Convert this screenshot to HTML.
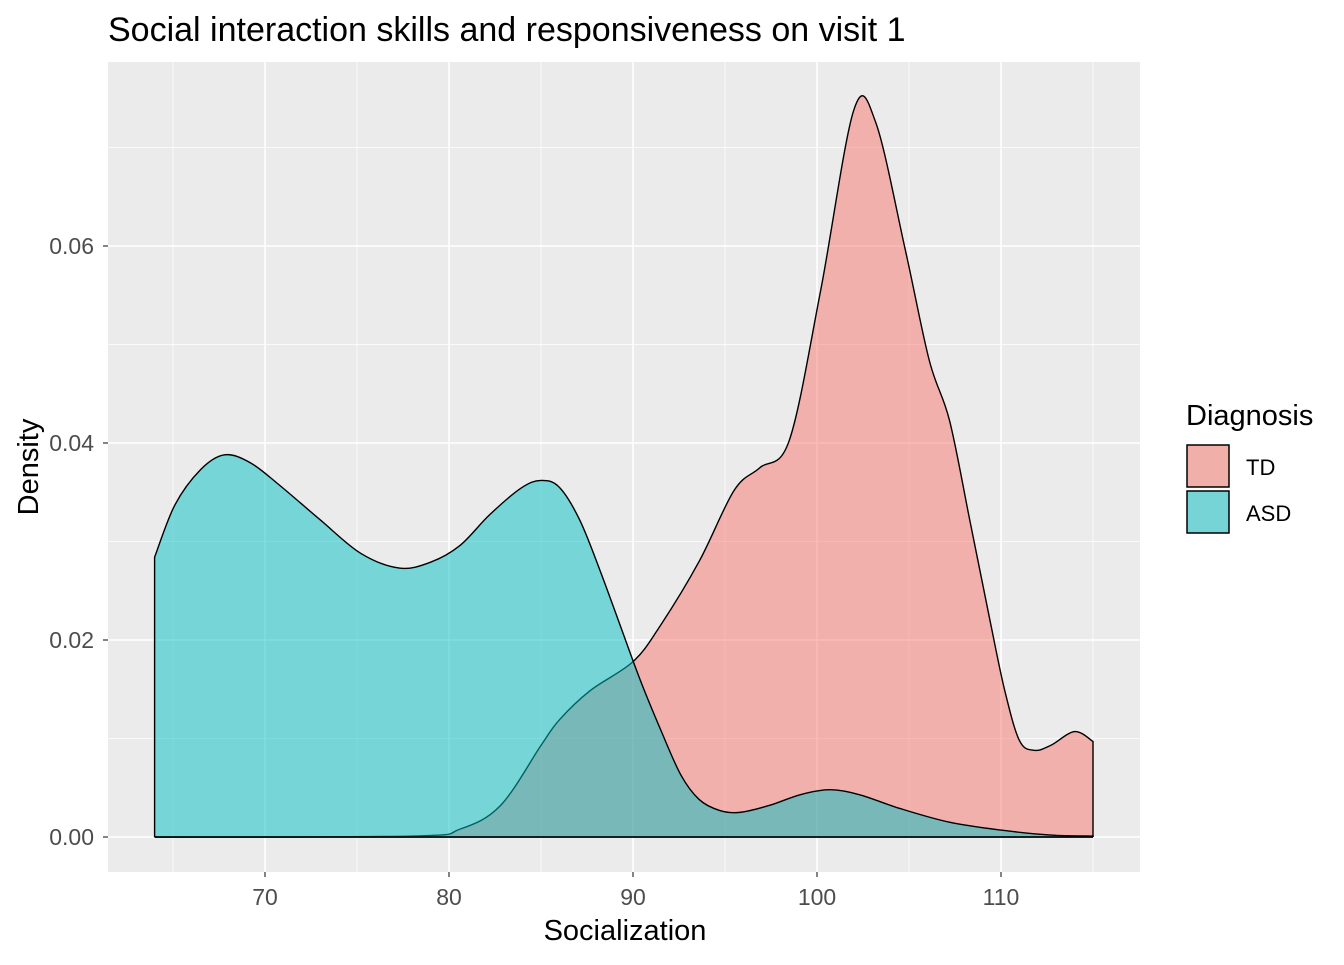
<!DOCTYPE html>
<html><head><meta charset="utf-8"><style>
body{margin:0;background:#fff;}
svg text{font-family:"Liberation Sans",Arial,sans-serif;}
</style></head><body>
<svg id="chart" width="1344" height="960" xmlns="http://www.w3.org/2000/svg">
<rect x="0" y="0" width="1344" height="960" fill="#fff"/>
<text x="108" y="41" font-size="34" fill="#000">Social interaction skills and responsiveness on visit 1</text>
<rect x="108" y="62" width="1032" height="810" fill="#EBEBEB"/>
<g id="grid"></g>
<g id="series"></g>
<g id="axes"></g>
<text x="625" y="940" font-size="29" text-anchor="middle" fill="#000">Socialization</text>
<text transform="translate(38,467) rotate(-90)" font-size="29" text-anchor="middle" fill="#000">Density</text>
<g>
<text x="1186" y="425" font-size="29" fill="#000">Diagnosis</text>
<g>
<rect x="1187" y="445" width="42" height="42" fill="#F1AFAA" stroke="#000" stroke-width="1.5"/>
<text x="1246" y="475" font-size="22" fill="#000">TD</text></g>
<g>
<rect x="1187" y="491" width="42" height="42" fill="#76D4D6" stroke="#000" stroke-width="1.5"/>
<text x="1246" y="521" font-size="22" fill="#000">ASD</text></g>
</g>
</svg>
<script>
const xTicks=[70,80,90,100,110];
const xMinor=[65,75,85,95,105,115];
const yTicks=[0,0.02,0.04,0.06];
const yMinor=[0.01,0.03,0.05,0.07];
const yTickLabels=["0.00","0.02","0.04","0.06"];
const tdX=[64,78,80.6,82.8,85,86,87.7,90,91.5,93.6,95.5,96.9,98.5,100.2,102.0,103.2,104.8,106.1,107.2,108.3,109.4,110.2,111,111.8,112.7,114,115];
const tdY=[0,0.0001,0.0008,0.0032,0.0093,0.0119,0.0149,0.0178,0.0215,0.028,0.0352,0.0375,0.0403,0.0555,0.0738,0.0725,0.0596,0.0484,0.0423,0.0322,0.022,0.0149,0.0098,0.0088,0.0093,0.0107,0.0097];
const asdX=[64,65.1,66.5,67.8,69.2,70.8,73,75.2,77.3,79,80.6,82.2,83.9,85,86,87.1,88.2,89.3,90.4,91.5,92.6,93.6,94.7,95.8,97.4,99.1,100.7,102.3,104.5,107.2,110,112.7,115];
const asdY=[0.0284,0.0337,0.0373,0.0388,0.038,0.0357,0.0322,0.0288,0.0273,0.0279,0.0296,0.0327,0.0354,0.0362,0.0355,0.0322,0.0271,0.0215,0.0159,0.0109,0.0063,0.0038,0.0027,0.0025,0.0032,0.0043,0.0048,0.0043,0.0029,0.0015,0.0007,0.0002,0.0001];
const NS="http://www.w3.org/2000/svg";
const sx=v=>265+(v-70)*18.4;
const sy=v=>837-v*9850;
function mk(tag,attrs,parent){const e=document.createElementNS(NS,tag);for(const k in attrs)e.setAttribute(k,attrs[k]);parent.appendChild(e);return e;}
const grid=document.getElementById('grid'),axes=document.getElementById('axes'),series=document.getElementById('series');
xMinor.forEach(v=>{const l=mk('line',{x1:sx(v),x2:sx(v),y1:62,y2:872,stroke:'#fff','stroke-width':0.7},grid);

});
yMinor.forEach(v=>{const l=mk('line',{x1:108,x2:1140,y1:sy(v),y2:sy(v),stroke:'#fff','stroke-width':0.7},grid);

});
xTicks.forEach(v=>{const l=mk('line',{x1:sx(v),x2:sx(v),y1:62,y2:872,stroke:'#fff','stroke-width':1.5},grid);


const t=mk('line',{x1:sx(v),x2:sx(v),y1:872,y2:877,stroke:'#333','stroke-width':1.2},axes);


const tx=mk('text',{x:sx(v),y:905,'font-size':23,'text-anchor':'middle',fill:'#4D4D4D'},axes);tx.textContent=v;

});
yTicks.forEach((v,i)=>{const l=mk('line',{x1:108,x2:1140,y1:sy(v),y2:sy(v),stroke:'#fff','stroke-width':1.5},grid);


const t=mk('line',{x1:103,x2:108,y1:sy(v),y2:sy(v),stroke:'#333','stroke-width':1.2},axes);


const tx=mk('text',{x:94,y:sy(v)+8,'font-size':23,'text-anchor':'end',fill:'#4D4D4D'},axes);tx.textContent=yTickLabels[i];

});
function smooth(xs,ys){const p=xs.map((x,i)=>[sx(x),sy(ys[i])]);let d=`M${p[0][0]},${p[0][1]}`;
for(let i=0;i<p.length-1;i++){const p0=p[Math.max(0,i-1)],p1=p[i],p2=p[i+1],p3=p[Math.min(p.length-1,i+2)];
const c1=[p1[0]+(p2[0]-p0[0])/6,p1[1]+(p2[1]-p0[1])/6],c2=[p2[0]-(p3[0]-p1[0])/6,p2[1]-(p3[1]-p1[1])/6];
d+=` C${c1[0]},${c1[1]} ${c2[0]},${c2[1]} ${p2[0]},${p2[1]}`;}return d;}
function area(xs,ys,color,name){const top=smooth(xs,ys);
const a=mk('path',{d:top+` L${sx(xs[xs.length-1])},${sy(0)} L${sx(xs[0])},${sy(0)} Z`,fill:color,'fill-opacity':0.5,stroke:'none'},series);


const l=mk('path',{d:`M${sx(xs[0])},${sy(0)} L${sx(xs[0])},${sy(ys[0])} `+top.replace(/^M[^ ]+/,'')+` L${sx(xs[xs.length-1])},${sy(0)}`,fill:'none',stroke:'#000','stroke-width':1.4},series);


const b=mk('line',{x1:sx(xs[0]),x2:sx(xs[xs.length-1]),y1:sy(0),y2:sy(0),stroke:'#000','stroke-width':1.4},series);

}
area(tdX,tdY,'#F8766D','td-density');
area(asdX,asdY,'#00BFC4','asd-density');
</script>
</body></html>
